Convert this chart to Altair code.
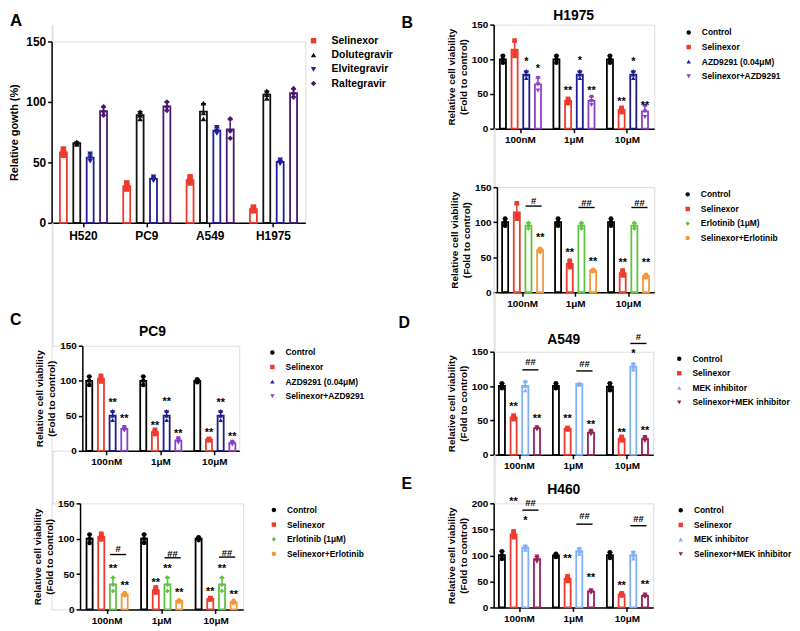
import altair as alt
import pandas as pd

FONT = "Liberation Sans"

# ---------------- Panel A : relative growth ----------------
cells = ["H520", "PC9", "A549", "H1975"]
drugs = ["Selinexor", "Dolutegravir", "Elvitegravir", "Raltegravir"]
drug_colors = ["#EE3B2E", "#111111", "#1E1E96", "#4A1870"]
drug_shapes = ["square", "triangle-up", "triangle-down", "diamond"]
a_h520 = [[56, 58, 61], [65, 66, 67], [51, 54, 57], [89, 92, 96]]
a_pc9 = [[28, 30, 33], [86, 89, 92], [35, 36, 38], [93, 96, 100]]
a_a549 = [[33, 35, 38], [86, 91, 99], [74, 76, 79], [70, 76, 86]]
a_h1975 = [[10, 11, 13], [103, 106, 109], [49, 50, 52], [104, 107, 111]]

doses = ["100nM", "1μM", "10μM"]

azd_groups = ["Control", "Selinexor", "AZD9291 (0.04μM)", "Selinexor+AZD9291"]
azd_colors = ["#000000", "#EE3B2E", "#1C1C8C", "#8B3FC9"]
azd_shapes = ["circle", "square", "triangle-up", "triangle-down"]
erl_groups = ["Control", "Selinexor", "Erlotinib (1μM)", "Selinexor+Erlotinib"]
erl_colors = ["#000000", "#EE3B2E", "#5EC43F", "#F5973A"]
erl_shapes = ["circle", "square", "diamond", "circle"]
mek_groups = ["Control", "Selinexor", "MEK inhibitor", "Selinexor+MEK inhibitor"]
mek_colors = ["#000000", "#EE3B2E", "#7FB0F5", "#9A1E5A"]
mek_shapes = ["circle", "square", "triangle-up", "triangle-down"]

# ---------------- H1975 + AZD9291 ----------------
b1_100nM = [[95, 100, 105], [105, 110, 127], [73, 78, 83], [55, 64, 73]]
b1_1uM = [[95, 100, 105], [37, 40, 43], [73, 78, 83], [34, 40, 46]]
b1_10uM = [[95, 100, 105], [24, 27, 30], [73, 78, 83], [17, 25, 33]]
b1_star_dose = ["100nM", "100nM", "1μM", "1μM", "1μM", "10μM", "10μM", "10μM"]
b1_star_group = [2, 3, 1, 2, 3, 1, 2, 3]
b1_star_text = ["*", "*", "**", "*", "**", "**", "*", "**"]
b1_star_y = [101, 90, 58, 102, 58, 43, 101, 37]

# ---------------- H1975 + Erlotinib ----------------
b2_100nM = [[95, 100, 105], [105, 110, 127], [91, 95, 99], [58, 60, 62]]
b2_1uM = [[95, 100, 105], [36, 40, 45], [91, 95, 99], [30, 31, 32]]
b2_10uM = [[95, 100, 105], [24, 27, 31], [91, 95, 99], [21, 23, 25]]
b2_star_dose = ["100nM", "1μM", "1μM", "10μM", "10μM"]
b2_star_group = [3, 1, 3, 1, 3]
b2_star_text = ["**", "**", "**", "**", "**"]
b2_star_y = [81, 60, 47, 45.6, 45.6]
b2_hash_text = ["#", "##", "##"]
b2_hash_line = [123, 121, 121]
b2_hash_y = [131, 128.5, 128.5]

# ---------------- PC9 + AZD9291 ----------------
c1_100nM = [[94, 100, 106], [99, 103, 107], [44, 50, 57], [29, 31, 34]]
c1_1uM = [[94, 100, 106], [24, 26, 30], [44, 50, 57], [12, 15, 18]]
c1_10uM = [[98, 100, 102], [15, 16, 17], [44, 50, 57], [9, 11, 13]]
c1_star_dose = ["100nM", "100nM", "1μM", "1μM", "1μM", "10μM", "10μM", "10μM"]
c1_star_group = [2, 3, 1, 2, 3, 1, 2, 3]
c1_star_text = ["**"] * 8
c1_star_y = [73, 49.5, 40, 74, 28, 30, 73, 23.6]

# ---------------- PC9 + Erlotinib ----------------
c2_100nM = [[94, 100, 106], [99, 103, 107], [26, 35, 45], [20, 21, 23]]
c2_1uM = [[94, 100, 106], [24, 27, 31], [26, 35, 45], [11, 12, 13]]
c2_10uM = [[98, 100, 102], [14, 15, 16], [26, 35, 45], [9, 10, 12]]
c2_star_dose = ["100nM", "100nM", "1μM", "1μM", "1μM", "10μM", "10μM", "10μM"]
c2_star_group = [2, 3, 1, 2, 3, 1, 2, 3]
c2_star_text = ["**"] * 8
c2_star_y = [61, 37.4, 41, 61, 28, 28.5, 61, 24.8]
c2_hash_text = ["#", "##", "##"]
c2_hash_line = [77.6, 73, 74]
c2_hash_y = [85.5, 79.5, 81]

# ---------------- A549 + MEK inhibitor ----------------
d_100nM = [[97, 100, 104], [52, 54, 57], [94, 100, 107], [37, 38, 40]]
d_1uM = [[97, 100, 104], [37, 38, 39], [102, 103, 104], [30, 32, 35]]
d_10uM = [[94, 99, 104], [21, 23, 26], [124, 128, 133], [20, 22, 26]]
d_star_dose = ["100nM", "100nM", "1μM", "1μM", "10μM", "10μM", "10μM"]
d_star_group = [1, 3, 1, 3, 1, 2, 3]
d_star_text = ["**", "**", "**", "**", "**", "*", "**"]
d_star_y = [74, 56.5, 56.5, 47, 36, 151, 39]
d_hash_text = ["##", "##", "#"]
d_hash_line = [123.6, 122, 162]
d_hash_y = [135.6, 133, 171.5]

# ---------------- H460 + MEK inhibitor ----------------
e_100nM = [[93, 100, 108], [135, 140, 146], [111, 115, 119], [88, 92, 98]]
e_1uM = [[97, 100, 103], [51, 55, 60], [103, 108, 114], [28, 30, 33]]
e_10uM = [[95, 100, 106], [23, 25, 27], [94, 100, 107], [20, 22, 25]]
e_star_dose = ["100nM", "100nM", "1μM", "1μM", "10μM", "10μM"]
e_star_group = [1, 2, 1, 3, 1, 3]
e_star_text = ["**", "*", "**", "**", "**", "**"]
e_star_y = [207.6, 172.6, 99, 62, 46.5, 48.4]
e_hash_text = ["##", "##", "##"]
e_hash_line = [187, 160, 157]
e_hash_y = [201, 176, 171]

VIAB_TITLE = ["Relative cell viability", "(Fold to control)"]


def rep_frame(cats, reps_by_cat, groups, colors):
    rows = []
    for c, reps in zip(cats, reps_by_cat):
        for g, col, vals in zip(groups, colors, reps):
            for v in vals:
                rows.append({"cat": c, "series": g, "col": col, "v": v})
    return pd.DataFrame(rows)


def panel(cats, reps_by_cat, groups, colors, shapes, ymax, yticks, ytitle,
          width, height, x0, pi, po, star=None, hashes=None,
          title=None, letter=None, legend_xy=(0, 0), big=False):
    df = rep_frame(cats, reps_by_cat, groups, colors)
    lab_fs = 12 if big else 10
    xlab_fs = 12 if big else 10
    yt_fs = 11 if big else 10
    sc_kw = dict(domain=cats, paddingInner=pi, paddingOuter=po)
    if x0:
        sc_kw["range"] = [x0, width]
    xscale = alt.Scale(**sc_kw)
    xaxis = alt.Axis(title=None, labelAngle=0, labelFont=FONT, labelFontSize=xlab_fs,
                     labelFontWeight="bold", labelColor="black", domainColor="black",
                     domainWidth=1.5, tickColor="black", tickWidth=1.5, tickSize=4,
                     labelPadding=4 if big else 2)
    yaxis = alt.Axis(title=ytitle, values=yticks, labelFont=FONT, labelFontSize=lab_fs,
                     labelFontWeight="bold", labelColor="black", domainColor="black",
                     domainWidth=1.5, tickColor="black", tickWidth=1.5, tickSize=4,
                     labelPadding=2, titleFont=FONT, titleFontSize=yt_fs,
                     titleFontWeight="bold", titleColor="black",
                     titlePadding=6 if big else 3, titleLineHeight=12,
                     offset=-x0 if x0 else 0, grid=False)
    yscale = alt.Scale(domain=[0, ymax], nice=False)
    X = alt.X("cat:N", sort=cats, scale=xscale, axis=xaxis)
    XO = alt.XOffset("series:N", sort=groups,
                     scale=alt.Scale(domain=groups, paddingInner=0.48, paddingOuter=0.28))
    sscale = alt.Scale(domain=groups, range=colors)

    bars = alt.Chart(df).mark_bar(fill="white", strokeWidth=1.8).encode(
        x=X, xOffset=XO,
        y=alt.Y("mean(v):Q", scale=yscale, axis=yaxis),
        stroke=alt.Stroke("col:N", scale=None))
    agg = alt.Chart(df).transform_aggregate(
        m="mean(v)", s="stdev(v)", groupby=["cat", "series", "col"]
    ).transform_calculate(hi="datum.m + datum.s")
    err = agg.mark_rule(strokeWidth=1.5).encode(
        x=X, xOffset=XO, y=alt.Y("m:Q", scale=yscale, axis=yaxis), y2="hi:Q",
        stroke=alt.Stroke("col:N", scale=None))
    cap = agg.mark_tick(size=5, thickness=1.5, opacity=1).encode(
        x=X, xOffset=XO, y=alt.Y("hi:Q", scale=yscale, axis=yaxis),
        fill=alt.Fill("col:N", scale=None))
    if big:
        leg = alt.Legend(title=None, orient="none", legendX=legend_xy[0], legendY=legend_xy[1],
                         labelFont=FONT, labelFontSize=10.5, labelFontWeight="bold",
                         labelColor="black", symbolSize=30, rowPadding=3.4, labelOffset=13,
                         padding=0, symbolStrokeWidth=0, symbolOpacity=1)
    else:
        leg = alt.Legend(title=None, orient="none", legendX=legend_xy[0], legendY=legend_xy[1],
                         labelFont=FONT, labelFontSize=8.5, labelFontWeight="bold",
                         labelColor="black", symbolSize=20, rowPadding=5.7, labelOffset=9,
                         padding=0, symbolStrokeWidth=0, symbolOpacity=1)
    pts = alt.Chart(df).mark_point(filled=True, size=32 if big else 22, opacity=1).encode(
        x=X, xOffset=XO, y=alt.Y("v:Q", scale=yscale, axis=yaxis),
        color=alt.Color("series:N", scale=sscale, legend=leg),
        shape=alt.Shape("series:N", scale=alt.Scale(domain=groups, range=shapes), legend=leg))
    layers = [bars, err, cap, pts]

    if star is not None:
        sd, sg, st, sy = star
        sdf = pd.DataFrame({"cat": sd, "series": [groups[i] for i in sg], "t": st, "y": sy})
        layers.append(alt.Chart(sdf).mark_text(font=FONT, fontSize=11, fontWeight="bold",
                                               baseline="middle", dy=3, color="black").encode(
            x=X, xOffset=XO, y=alt.Y("y:Q", scale=yscale, axis=yaxis), text="t:N"))
    if hashes is not None:
        ht, hl, hy = hashes
        hdf = pd.DataFrame({"cat": cats, "t": ht, "ly": hl, "ty": hy})
        layers.append(alt.Chart(hdf).mark_rule(strokeWidth=1.4, color="black").encode(
            x=alt.X("cat:N", sort=cats, scale=xscale, axis=xaxis, bandPosition=0.56),
            x2=alt.X2("cat:N", bandPosition=0.9),
            y=alt.Y("ly:Q", scale=yscale, axis=yaxis)))
        layers.append(alt.Chart(hdf).mark_text(font=FONT, fontSize=9.5, fontWeight="bold",
                                               baseline="middle", dy=0.5, color="black").encode(
            x=alt.X("cat:N", sort=cats, scale=xscale, axis=xaxis, bandPosition=0.73),
            y=alt.Y("ty:Q", scale=yscale, axis=yaxis), text="t:N"))
    if title is not None:
        t, tx, ty = title
        layers.append(alt.Chart(pd.DataFrame({"t": [t]})).mark_text(
            font=FONT, fontSize=14, fontWeight="bold", align="center",
            baseline="top", color="black").encode(
            text="t:N", x=alt.value(tx), y=alt.value(ty)))
    if letter is not None:
        t, tx, ty = letter
        layers.append(alt.Chart(pd.DataFrame({"t": [t]})).mark_text(
            font=FONT, fontSize=17 if big else 16, fontWeight="bold", align="left",
            baseline="top", color="black").encode(
            text="t:N", x=alt.value(tx), y=alt.value(ty)))
    return alt.layer(*layers).properties(width=width, height=height)


def spacer(h):
    return alt.Chart(pd.DataFrame({"z": [0]})).mark_point(opacity=0).encode(
        x=alt.X("z:Q", axis=None), y=alt.Y("z:Q", axis=None)
    ).properties(width=1, height=h)


pA = panel(cells, [a_h520, a_pc9, a_a549, a_h1975], drugs, drug_colors, drug_shapes,
           150, [0, 50, 100, 150], "Relative gowth (%)", 256, 183, 0, 0.138, 0.072,
           letter=("A", -42, -29), legend_xy=(259, -6), big=True)
pC1 = panel(doses, [c1_100nM, c1_1uM, c1_10uM], azd_groups, azd_colors, azd_shapes,
            150, [0, 50, 100, 150], VIAB_TITLE, 189.3, 106, 31, 0.117, 0.011,
            star=(c1_star_dose, c1_star_group, c1_star_text, c1_star_y),
            title=("PC9", 101.7, -21), letter=("C", -42, -34), legend_xy=(218.5, 2.5))
pC2 = panel(doses, [c2_100nM, c2_1uM, c2_10uM], erl_groups, erl_colors, erl_shapes,
            150, [0, 50, 100, 150], VIAB_TITLE, 193.3, 107, 28.7, 0.125, 0.059,
            star=(c2_star_dose, c2_star_group, c2_star_text, c2_star_y),
            hashes=(c2_hash_text, c2_hash_line, c2_hash_y), legend_xy=(220, 2.5))
pB1 = panel(doses, [b1_100nM, b1_1uM, b1_10uM], azd_groups, azd_colors, azd_shapes,
            150, [0, 50, 100, 150], VIAB_TITLE, 162, 105, 0, 0.109, 0.055,
            star=(b1_star_dose, b1_star_group, b1_star_text, b1_star_y),
            title=("H1975", 80.7, -16), letter=("B", -93, -10), legend_xy=(192.5, 3.7))
pB2 = panel(doses, [b2_100nM, b2_1uM, b2_10uM], erl_groups, erl_colors, erl_shapes,
            150, [0, 50, 100, 150], VIAB_TITLE, 162, 106, 3.3, 0.101, 0.036,
            star=(b2_star_dose, b2_star_group, b2_star_text, b2_star_y),
            hashes=(b2_hash_text, b2_hash_line, b2_hash_y), legend_xy=(191.5, 3))
pD = panel(doses, [d_100nM, d_1uM, d_10uM], mek_groups, mek_colors, mek_shapes,
           150, [0, 50, 100, 150], VIAB_TITLE, 161, 104, 0, 0.117, 0.036,
           star=(d_star_dose, d_star_group, d_star_text, d_star_y),
           hashes=(d_hash_text, d_hash_line, d_hash_y),
           title=("A549", 70.7, -19), letter=("D", -96, -37), legend_xy=(183, 2.8))
pE = panel(doses, [e_100nM, e_1uM, e_10uM], mek_groups, mek_colors, mek_shapes,
           200, [0, 50, 100, 150, 200], VIAB_TITLE, 161, 105, 0, 0.117, 0.036,
           star=(e_star_dose, e_star_group, e_star_text, e_star_y),
           hashes=(e_hash_text, e_hash_line, e_hash_y),
           title=("H460", 70.7, -20), letter=("E", -93, -27), legend_xy=(184.5, 2.8))

indep = dict(color="independent", shape="independent", xOffset="independent",
             x="independent", y="independent")
lindep = dict(color="independent", shape="independent")

left = alt.vconcat(spacer(17), pA, spacer(124), pC1, spacer(53), pC2,
                   spacing=0, bounds="flush").resolve_scale(**indep).resolve_legend(**lindep)
right = alt.vconcat(pB1, spacer(59), pB2, spacer(60), pD, spacer(49), pE,
                    spacing=0, bounds="flush").resolve_scale(**indep).resolve_legend(**lindep)

chart = alt.hconcat(left, right, spacing=446, bounds="flush").resolve_scale(
    **indep).resolve_legend(**lindep).properties(
    padding={"left": 0, "top": -3, "right": 0, "bottom": 0}
).configure_view(stroke=None).configure(font=FONT)

chart.save("out.html", embed_options={"renderer": "svg", "actions": False})
